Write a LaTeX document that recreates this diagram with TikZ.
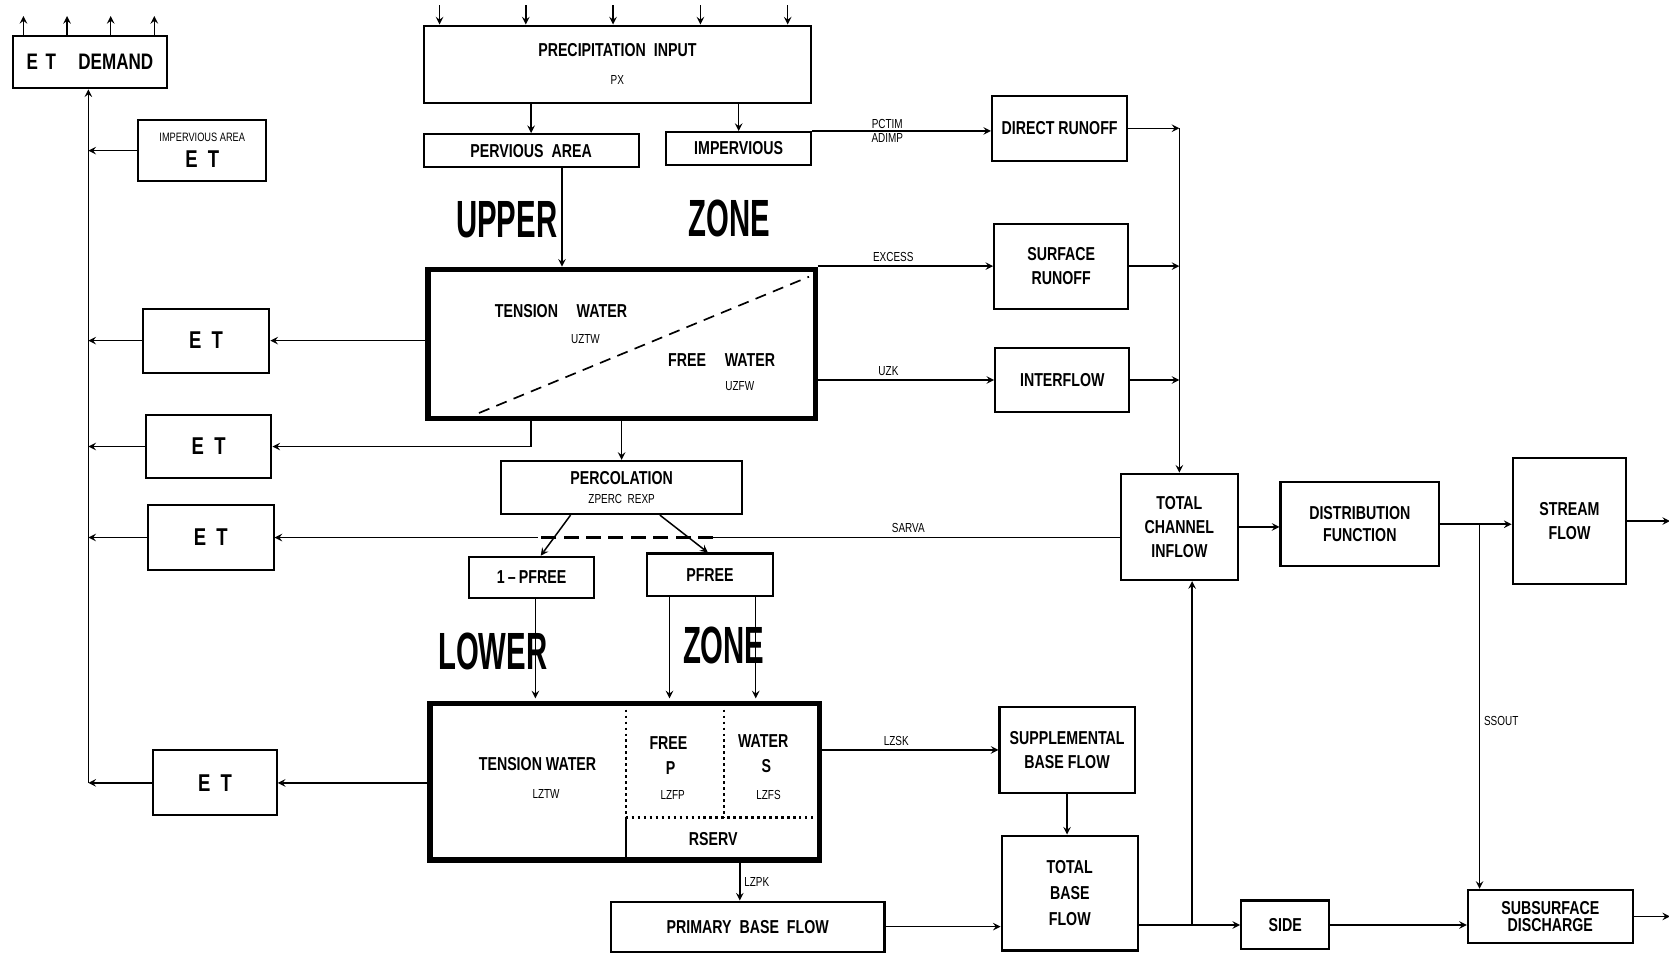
\documentclass[tikz,border=0pt]{standalone}
\usepackage{fontspec}
\setmainfont{Liberation Sans}[FakeStretch=0.76]
\newfontfamily\narrowfont{Liberation Sans}[FakeStretch=0.56]
\usetikzlibrary{calc}
\begin{document}
\begin{tikzpicture}[x=0.02cm,y=-0.02cm,>=stealth,
  box/.style={draw,line width=1.1pt,inner sep=0pt,align=center,font=\bfseries\fontsize{10}{13}\selectfont},
  etbox/.style={box,font=\bfseries\fontsize{13}{14}\selectfont},
  tank/.style={draw,line width=2.8pt,inner sep=0pt},
  flow/.style={->,line width=0.8pt},
  lab/.style={font=\bfseries\fontsize{10}{12}\selectfont,inner sep=1pt},
  tag/.style={font=\fontsize{7}{8}\selectfont,inner sep=2pt},
  zone/.style={font=\narrowfont\bfseries\fontsize{28}{30}\selectfont,inner sep=0pt}]
\useasboundingbox (0,0) rectangle (1568,896);

\node[box,minimum width=2.9cm,minimum height=0.98cm,font=\bfseries\fontsize{12}{14}\selectfont] (etd) at (84.5,58.5) {E\,\,T\quad DEMAND};
\node[box,minimum width=2.4cm,minimum height=1.14cm] (impet) at (190,141.5) {\mdseries\fontsize{6.5}{8}\selectfont IMPERVIOUS AREA\\[1pt]\fontsize{13}{14}\selectfont E\ \ T};
\node[etbox,minimum width=2.38cm,minimum height=1.2cm] (et1) at (193.5,320) {E\ \ T};
\node[etbox,minimum width=2.36cm,minimum height=1.18cm] (et2) at (196,419.5) {E\ \ T};
\node[etbox,minimum width=2.36cm,minimum height=1.22cm] (et3) at (198,505) {E\ \ T};
\node[etbox,minimum width=2.32cm,minimum height=1.22cm] (et4) at (202,735.5) {E\ \ T};

\node[box,minimum width=7.28cm,minimum height=1.46cm] (precip) at (580,60.5) {PRECIPITATION\ \ INPUT\\[2pt]{\mdseries\fontsize{7}{8}\selectfont PX}};
\node[box,minimum width=4.04cm,minimum height=0.62cm] (pervious) at (499,141.5) {PERVIOUS\ \ AREA};
\node[box,minimum width=2.72cm,minimum height=0.62cm] (impervious) at (694,139.5) {IMPERVIOUS};

\node[box,minimum width=2.54cm,minimum height=1.22cm] (direct) at (995.5,120.5) {DIRECT RUNOFF};
\node[box,minimum width=2.52cm,minimum height=1.6cm] (surface) at (997,250) {SURFACE\\RUNOFF};
\node[box,minimum width=2.52cm,minimum height=1.2cm] (interflow) at (998,357) {INTERFLOW};

\node[zone] (upperw) at (476,206) {UPPER};
\node[zone] (upzonew) at (685,205) {ZONE};

\node[tank,minimum width=7.28cm,minimum height=2.8cm] (upper) at (584,323) {};
\draw[dashed,line width=0.9pt,dash pattern=on 6pt off 4pt] (450,388) -- (760,260);
\node[lab] (uztwlab) at (527,292) {TENSION\quad WATER};
\node[tag] (uztw) at (550,319) {UZTW};
\node[lab] (uzfwlab) at (678,338) {FREE\quad WATER};
\node[tag] (uzfw) at (695,363) {UZFW};

\node[box,minimum width=4.52cm,minimum height=1.0cm] (perc) at (584,458) {PERCOLATION\\[-3pt]{\mdseries\fontsize{7}{8}\selectfont ZPERC\ \ REXP}};
\node[box,minimum width=2.34cm,minimum height=0.78cm] (onepf) at (499.5,542.5) {1\,--\,PFREE};
\node[box,minimum width=2.36cm,minimum height=0.8cm] (pfree) at (667,540) {PFREE};

\node[zone] (lowerw) at (463,612) {LOWER};
\node[zone] (lozonew) at (680,606) {ZONE};

\node[tank,minimum width=7.32cm,minimum height=2.94cm] (lower) at (587,734.5) {};
\draw[dotted,line width=1.2pt] (588,661) -- (588,768) -- (770,768);
\draw[dotted,line width=1.2pt] (680,661) -- (680,768);
\draw[line width=1.1pt] (588,768) -- (588,808);
\node[lab] (lztwlab) at (505,718) {TENSION WATER};
\node[tag] (lztw) at (513,746) {LZTW};
\node[lab] (lzfplab) at (628,698) {FREE};
\node[lab] (plab) at (630,722) {P};
\node[tag] (lzfp) at (632,747) {LZFP};
\node[lab] (lzfslab) at (717,696) {WATER};
\node[lab] (slab) at (720,720) {S};
\node[tag] (lzfs) at (722,747) {LZFS};
\node[lab] (rserv) at (670,788) {RSERV};

\node[box,minimum width=2.54cm,minimum height=1.62cm] (suppl) at (1002.5,704.5) {SUPPLEMENTAL\\BASE FLOW};
\node[box,minimum width=5.14cm,minimum height=0.94cm] (primary) at (702.5,870.5) {PRIMARY\ \ BASE\ \ FLOW};
\node[box,minimum width=2.56cm,minimum height=2.16cm,font=\bfseries\fontsize{10}{14}\selectfont] (tbf) at (1005,839) {TOTAL\\BASE\\FLOW};
\node[box,minimum width=1.66cm,minimum height=0.92cm] (side) at (1207.5,869) {SIDE};
\node[box,minimum width=3.1cm,minimum height=1.0cm,font=\bfseries\fontsize{10}{9}\selectfont] (ssd) at (1456.5,861) {SUBSURFACE\\DISCHARGE};

\node[box,minimum width=2.2cm,minimum height=2.0cm] (tci) at (1108,495) {TOTAL\\CHANNEL\\INFLOW};
\node[box,minimum width=2.98cm,minimum height=1.58cm,font=\bfseries\fontsize{10}{12}\selectfont] (dist) at (1277.5,492.5) {DISTRIBUTION\\FUNCTION};
\node[box,minimum width=2.14cm,minimum height=2.38cm] (stream) at (1474.5,489.5) {STREAM\\FLOW};

\foreach \x in {22,63,104,145}
  \draw[flow] (etd.north -| \x,0) -- ++(0,-18);
\foreach \x in {413,494,576,658,740}
  \draw[flow] (precip.north -| \x,0) ++(0,-18) -- (precip.north -| \x,0);

\coordinate (spine) at (83,0);
\draw[flow] (spine |- et4.west) -- (spine |- etd.south);
\foreach \n in {impet,et1,et2,et3,et4}
  \draw[flow] (\n.west) -- (spine |- \n.west);

\draw[flow] (precip.south -| pervious) -- (pervious.north);
\draw[flow] (precip.south -| impervious) -- (impervious.north);
\draw[flow] ([xshift=0.58cm]pervious.south) -- ([xshift=0.58cm]pervious.south |- upper.north);
\draw[flow] (impervious.north east) -- (impervious.north east -| direct.west)
  node[tag,pos=0.42,above=-1pt] {PCTIM} node[tag,pos=0.42,below=-1pt] {ADIMP};

\draw[flow] (et1.east -| upper.west) -- (et1.east);
\draw[flow] (upper.south -| pervious) |- (et2.east);
\draw[flow] (surface.west -| upper.east) -- (surface.west) node[tag,pos=0.43,above] {EXCESS};
\draw[flow] (interflow.west -| upper.east) -- (interflow.west) node[tag,pos=0.4,above] {UZK};
\draw[flow] (upper.south) -- (perc.north);

\foreach \n in {direct,surface,interflow}
  \draw[flow] (\n.east) -- (\n.east -| tci.north);
\draw[flow] (direct.east -| tci.north) -- (tci.north);

\draw[flow] ([xshift=-0.96cm]perc.south) -- ([xshift=0.17cm]onepf.north);
\draw[flow] ([xshift=0.72cm]perc.south) -- ([xshift=-0.04cm]pfree.north);

\coordinate (dashR) at (670,505);
\coordinate (dashL) at (505,505);
\draw[line width=0.8pt] (tci.west |- dashR) -- (dashR) node[tag,pos=0.52,above] {SARVA};
\draw[line width=1.2pt,dash pattern=on 8pt off 4pt] (dashR) -- (dashL);
\draw[flow] (dashL) -- (dashL -| et3.east);

\draw[flow,shorten >=1.4pt] ([xshift=0.07cm]onepf.south) -- ([xshift=0.07cm]onepf.south |- lower.north);
\draw[flow,shorten >=1.4pt] ([xshift=-0.76cm]pfree.south) -- ([xshift=-0.76cm]pfree.south |- lower.north);
\draw[flow,shorten >=1.4pt] ([xshift=0.86cm]pfree.south) -- ([xshift=0.86cm]pfree.south |- lower.north);

\draw[flow] (et4.east -| lower.west) -- (et4.east);
\draw[flow] (suppl.west -| lower.east) -- (suppl.west) node[tag,pos=0.42,above] {LZSK};
\draw[flow] ([xshift=-0.15cm]primary.north |- lower.south) -- ([xshift=-0.15cm]primary.north)
  node[tag,midway,right] {LZPK};

\draw[flow] (primary.east) -- (primary.east -| tbf.west);
\draw[flow] (suppl.south) -- (suppl.south |- tbf.north);
\draw[flow] (side.west -| tbf.east) -- (side.west);
\draw[flow] ([xshift=0.24cm]tci.south |- side.west) -- ([xshift=0.24cm]tci.south);
\draw[flow] (side.east) -- (side.east -| ssd.west);
\draw[flow] (ssd.east) -- ++(34,0);

\draw[flow] (tci.east) -- (tci.east -| dist.west);
\draw[flow] (dist.east) -- (dist.east -| stream.west);
\draw[flow] ([xshift=-1.33cm]ssd.north |- dist.east) -- ([xshift=-1.33cm]ssd.north)
  node[tag,pos=0.54,right] {SSOUT};
\draw[flow] (stream.east) -- ++(40,0);
\end{tikzpicture}
\end{document}
